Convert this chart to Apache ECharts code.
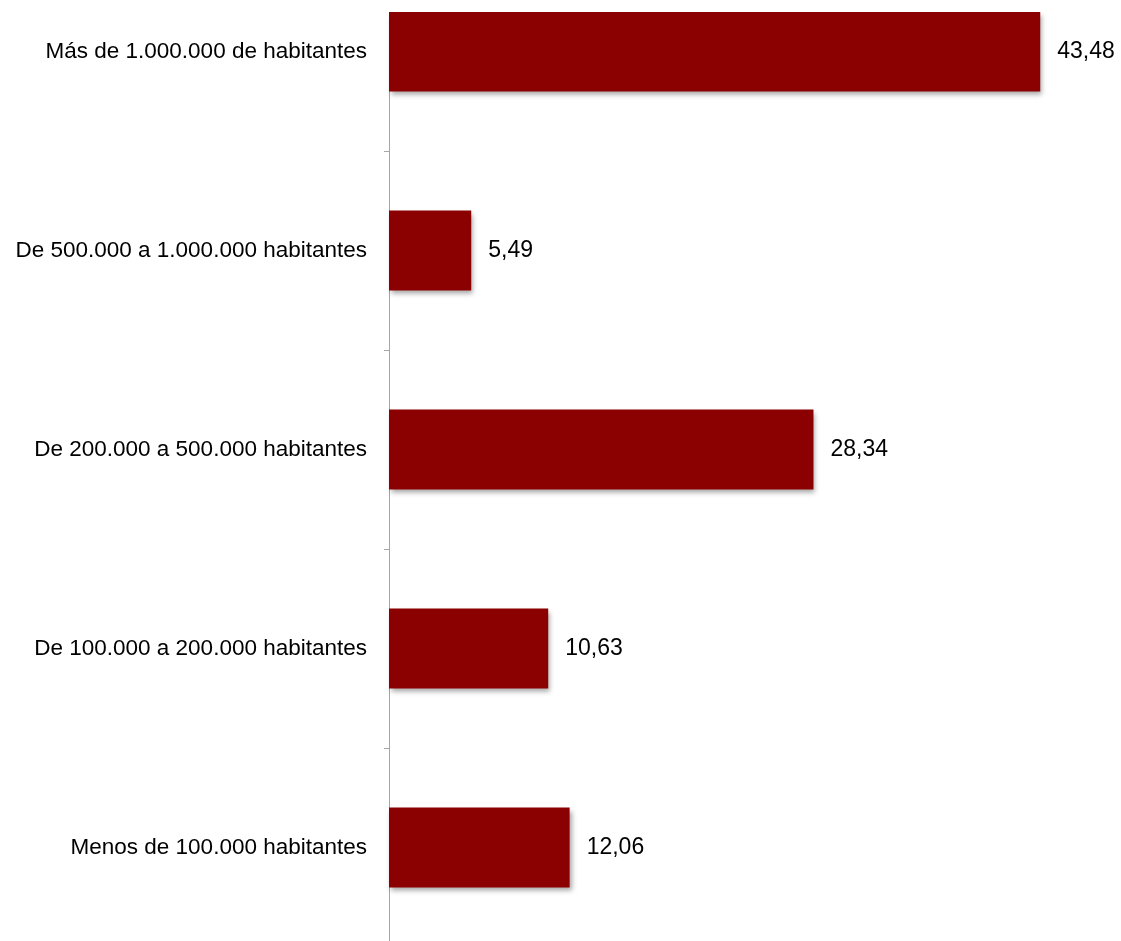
<!DOCTYPE html>
<html>
<head>
<meta charset="utf-8">
<script src="https://cdn.jsdelivr.net/npm/echarts@6/dist/echarts.min.js"></script>
<style>
  html, body { margin: 0; padding: 0; background: #fff; }
  #frame { position: absolute; left: 0; top: 12px; width: 1121px; height: 929px; overflow: hidden; }
  #chart { position: absolute; left: 0; top: -60px; width: 1121px; height: 1000px; }
</style>
</head>
<body>
<div id="frame"><div id="chart"></div></div>
<script>
// Population-size groups, listed top to bottom
const categories = [
  'Más de 1.000.000 de habitantes',
  'De 500.000 a 1.000.000 habitantes',
  'De 200.000 a 500.000 habitantes',
  'De 100.000 a 200.000 habitantes',
  'Menos de 100.000 habitantes'
];
const values = [43.48, 5.49, 28.34, 10.63, 12.06];

const FONT = '"Liberation Sans", Arial, sans-serif';

const chart = echarts.init(document.getElementById('chart'), null, { renderer: 'canvas' });

chart.setOption({
  animation: false,
  backgroundColor: '#ffffff',
  grid: { left: 389, right: 58, top: 0, bottom: 5, containLabel: false, outerBoundsMode: 'none' },
  xAxis: {
    type: 'value',
    min: 0,
    max: 45,
    show: false
  },
  yAxis: {
    type: 'category',
    inverse: true,
    data: categories,
    axisLine: { show: true, lineStyle: { color: '#a6a6a6', width: 1 } },
    axisTick: { show: true, length: 5, lineStyle: { color: '#a6a6a6' } },
    axisLabel: {
      margin: 22,
      color: '#000',
      fontFamily: FONT,
      fontSize: 22.5
    },
    splitLine: { show: false }
  },
  series: [{
    type: 'bar',
    data: values,
    barWidth: 80,
    itemStyle: {
      color: '#8b0000',
      shadowColor: 'rgba(0,0,0,0.35)',
      shadowBlur: 5,
      shadowOffsetX: 2,
      shadowOffsetY: 3
    },
    label: {
      show: true,
      position: 'right',
      distance: 17,
      color: '#000',
      fontFamily: FONT,
      fontSize: 23,
      formatter: p => p.value.toFixed(2).replace('.', ',')
    }
  }]
});
</script>
</body>
</html>
